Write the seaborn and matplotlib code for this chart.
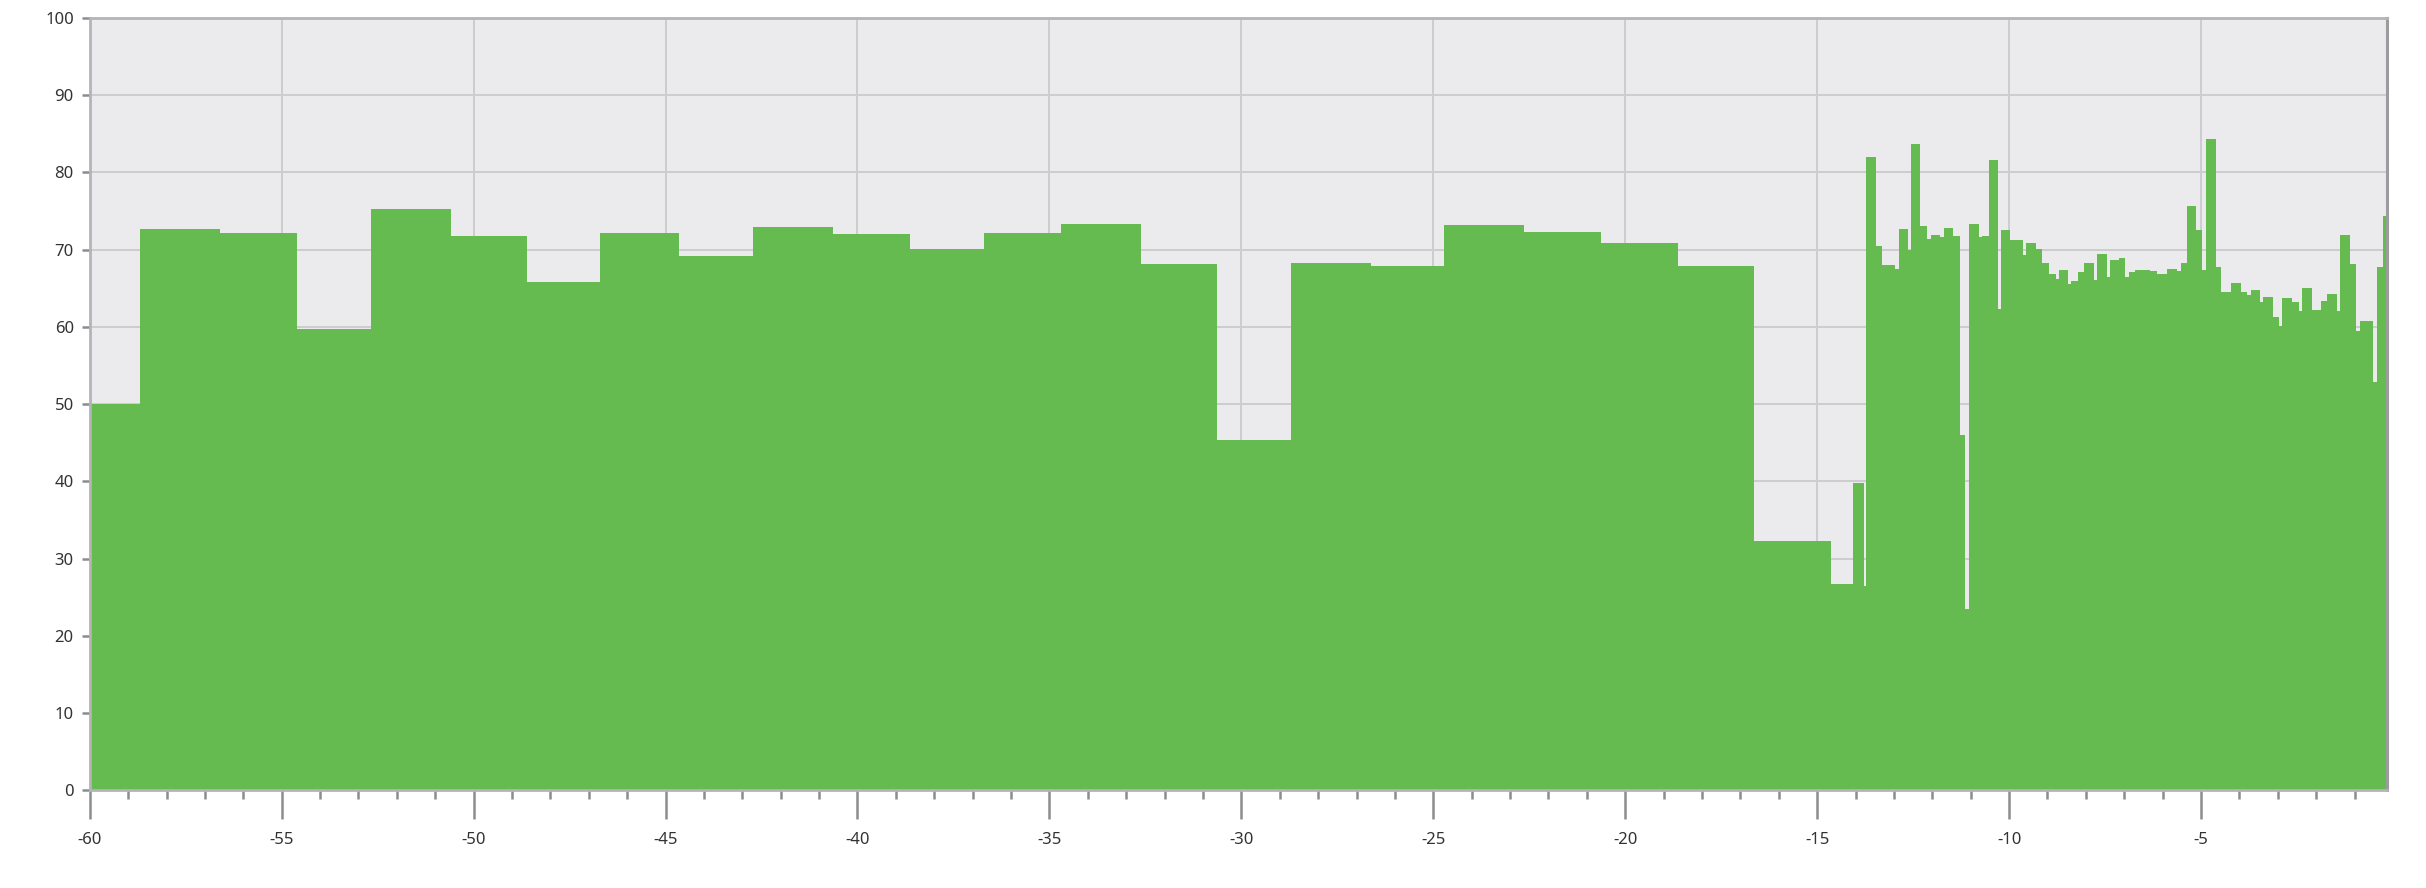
import numpy as np
import pandas as pd
import matplotlib
matplotlib.use("Agg")
import matplotlib.pyplot as plt
from matplotlib.ticker import MultipleLocator
import seaborn as sns

# ---- data: each segment starts at seg_start[i] and holds seg_value[i] until the next start
seg_start = [-60.0, -58.68, -56.61, -54.60, -52.68, -50.60, -48.62, -46.70, -44.64, -42.71,
             -40.65, -38.63, -36.70, -34.69, -32.62, -30.63, -28.71, -26.63, -24.71, -22.64,
             -20.63, -18.62, -16.64, -14.63, -14.06, -13.79, -13.72, -13.47, -13.30, -12.96,
             -12.88, -12.63, -12.55, -12.31, -12.14, -12.03, -11.79, -11.70, -11.47, -11.29,
             -11.14, -11.04, -10.79, -10.70, -10.53, -10.29, -10.21, -9.97, -9.64, -9.55,
             -9.31, -9.14, -8.97, -8.79, -8.71, -8.47, -8.38, -8.21, -8.05, -7.80,
             -7.71, -7.46, -7.38, -7.14, -6.97, -6.88, -6.71, -6.32, -6.15, -5.89,
             -5.62, -5.53, -5.37, -5.13, -4.97, -4.88, -4.62, -4.47, -4.22, -3.97,
             -3.80, -3.71, -3.47, -3.39, -3.12, -2.98, -2.88, -2.63, -2.46, -2.38,
             -2.12, -1.88, -1.72, -1.47, -1.38, -1.12, -0.95, -0.87, -0.51, -0.42,
             -0.26]
seg_value = [50.0, 72.6, 72.2, 59.7, 75.3, 71.8, 65.8, 72.1, 69.2, 72.9,
             72.0, 70.1, 72.2, 73.3, 68.1, 45.4, 68.3, 67.9, 73.2, 72.3,
             70.9, 67.9, 32.3, 26.7, 39.8, 26.5, 82.0, 70.4, 68.0, 67.5,
             72.6, 69.9, 83.6, 73.1, 71.3, 71.9, 71.6, 72.8, 71.7, 46.0,
             23.5, 73.3, 71.6, 71.8, 81.6, 62.3, 72.5, 71.2, 69.3, 70.9,
             70.1, 68.2, 66.8, 66.2, 67.4, 65.5, 65.9, 67.1, 68.2, 66.0,
             69.4, 66.5, 68.7, 68.9, 66.5, 67.1, 67.3, 67.2, 66.8, 67.5,
             67.2, 68.2, 75.6, 72.5, 67.3, 84.3, 67.7, 64.5, 65.7, 64.5,
             64.1, 64.7, 63.2, 63.9, 61.3, 60.1, 63.7, 63.2, 62.1, 65.0,
             62.2, 63.3, 64.2, 62.1, 71.9, 68.1, 59.5, 60.8, 52.9, 67.7,
             74.3]
series_end = -0.15

y_ticks = [0, 10, 20, 30, 40, 50, 60, 70, 80, 90, 100]
x_ticks = [-60, -55, -50, -45, -40, -35, -30, -25, -20, -15, -10, -5]

edges = [float(e) for e in seg_start + [series_end]]
centers = [(a + b) / 2 for a, b in zip(edges[:-1], edges[1:])]
df = pd.DataFrame({"t": centers, "v": seg_value})

GREEN = "#66BB50"
BG = "#EBEAEC"
GRID = "#CDCDD0"
TICK = "#8A8D90"

sns.set_theme(style="white")
plt.rcParams["font.family"] = ["Liberation Sans Narrow", "Noto Sans", "DejaVu Sans"]

fig = plt.figure(figsize=(24.26, 8.88), dpi=100)
ax = fig.add_axes([0.037, 0.110, 0.947, 0.870])
ax.set_facecolor(BG)

sns.histplot(data=df, x="t", weights="v", bins=edges, element="step", fill=True,
             color=GREEN, alpha=1.0, linewidth=0, ax=ax, zorder=2)

ax.set_xlim(-60, series_end)
ax.set_ylim(0, 100)
ax.set_xticks(x_ticks)
ax.set_xticklabels([str(t) for t in x_ticks])
ax.xaxis.set_minor_locator(MultipleLocator(1))
ax.set_yticks(y_ticks)
ax.set_yticklabels([str(t) for t in y_ticks])
ax.set_xlabel("")
ax.set_ylabel("")

ax.set_axisbelow(True)
ax.grid(True, which="major", color=GRID, linewidth=1.4)

ax.tick_params(axis="x", which="major", length=21, width=1.8, color=TICK,
               labelsize=12, labelcolor="#333333", pad=9, direction="out", bottom=True)
ax.tick_params(axis="x", which="minor", length=6.5, width=1.8, color=TICK,
               direction="out", bottom=True)
ax.tick_params(axis="y", which="major", length=5.5, width=1.8, color=TICK,
               labelsize=12, labelcolor="#333333", pad=6, direction="out", left=True)

for side in ["top", "left", "bottom"]:
    ax.spines[side].set_visible(True)
    ax.spines[side].set_color("#B4B4B6")
    ax.spines[side].set_linewidth(2.0)
ax.spines["right"].set_visible(True)
ax.spines["right"].set_color("#9C9C9E")
ax.spines["right"].set_linewidth(2.2)
for s in ax.spines.values():
    s.set_zorder(3)

fig.savefig("out.png", dpi=100, facecolor="white")
